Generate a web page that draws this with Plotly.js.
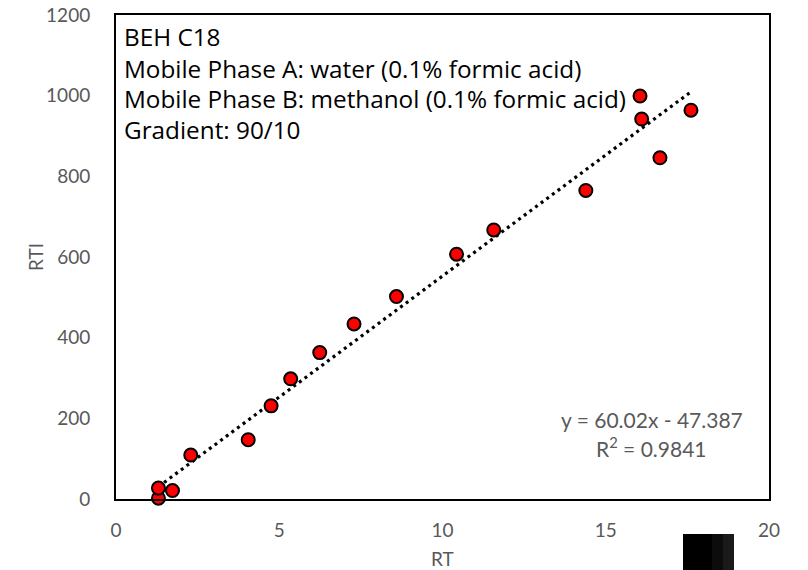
<!DOCTYPE html>
<html>
<head>
<meta charset="utf-8">
<script src="https://cdn.plot.ly/plotly-3.0.1.min.js"></script>
<style>
  html, body { margin: 0; padding: 0; background: #fff; }
  #chart { width: 808px; height: 570px; }
</style>
</head>
<body>
<div id="chart"></div>
<script>
// Retention time (min) and retention time index for each compound
const rt  = [1.30, 1.30, 1.73, 2.29, 4.05, 4.75, 5.35, 6.24, 7.29, 8.59, 10.43, 11.57, 14.39, 16.05, 16.10, 16.66, 17.61];
const rti = [2, 27, 21, 109, 147, 231, 298, 363, 434, 502, 607, 667, 765, 999, 942, 846, 964];

// Linear trendline reported for the fit
const slope = 60.02;
const intercept = -47.387;
const r2 = 0.9841;

const xTicks = [0, 5, 10, 15, 20];
const yTicks = [0, 200, 400, 600, 800, 1000, 1200];

const xTitle = "RT";
const yTitle = "RTI";

const infoLines = [
  "BEH C18",
  "Mobile Phase A: water (0.1% formic acid)",
  "Mobile Phase B: methanol (0.1% formic acid)",
  "Gradient: 90/10"
];

const FONT = "Lato, 'Open Sans', sans-serif";
const BOXFONT = "'Open Sans', Lato, sans-serif";
const GREY = "#595959";

const xMin = Math.min(...rt), xMax = Math.max(...rt);
const trendX = [xMin, xMax];
const trendY = trendX.map(x => slope * x + intercept);

const traces = [
  {
    x: trendX, y: trendY, type: "scatter", mode: "lines",
    line: { color: "#000", width: 3.2, dash: "3px,4px" },
    hoverinfo: "skip"
  },
  {
    x: rt, y: rti, type: "scatter", mode: "markers", cliponaxis: false,
    marker: { color: "#ff0000", size: 13, line: { color: "#000", width: 2 } }
  }
];

const plotW = 808 - 116 - 39;
const plotH = 570 - 15 - 71;
const px = v => (v - 116) / plotW;
const py = v => (499 - v) / plotH;

const lineY = [37, 68, 98, 129];

const annotations = infoLines.map((t, i) => ({
  text: t, xref: "paper", yref: "paper",
  x: px(122), y: py(lineY[i]),
  xanchor: "left", yanchor: "middle", showarrow: false,
  font: { family: BOXFONT, size: 24.3, color: "#000" }
}));

// fit equation and coefficient of determination
annotations.push({
  text: "y = " + slope.toFixed(2) + "x - " + Math.abs(intercept).toFixed(3),
  xref: "paper", yref: "paper", x: px(652), y: py(419),
  xanchor: "center", yanchor: "middle", showarrow: false,
  font: { family: FONT, size: 21, color: GREY }
});
annotations.push({
  text: "R<sup>2</sup> = " + r2.toFixed(4),
  xref: "paper", yref: "paper", x: px(651), y: py(447),
  xanchor: "center", yanchor: "middle", showarrow: false,
  font: { family: FONT, size: 21, color: GREY }
});

// axis titles
annotations.push({
  text: xTitle, xref: "paper", yref: "paper", x: px(443), y: py(558),
  xanchor: "center", yanchor: "middle", showarrow: false,
  font: { family: FONT, size: 19, color: GREY }
});
annotations.push({
  text: yTitle, xref: "paper", yref: "paper", x: px(35), y: py(257),
  xanchor: "center", yanchor: "middle", showarrow: false, textangle: -90,
  font: { family: FONT, size: 19, color: GREY }
});

// dark block under the x axis, lower right
const shapes = [
  { type: "rect", xref: "paper", yref: "paper", x0: px(683), x1: px(712), y0: py(570), y1: py(534),
    fillcolor: "#000", line: { width: 0 } },
  { type: "rect", xref: "paper", yref: "paper", x0: px(712), x1: px(723), y0: py(570), y1: py(534),
    fillcolor: "#0c0c0c", line: { width: 0 } },
  { type: "rect", xref: "paper", yref: "paper", x0: px(723), x1: px(734), y0: py(570), y1: py(534),
    fillcolor: "#1a1a1a", line: { width: 0 } }
];

const layout = {
  width: 808, height: 570,
  margin: { l: 116, r: 39, t: 15, b: 71 },
  paper_bgcolor: "#fff", plot_bgcolor: "#fff",
  showlegend: false,
  font: { family: FONT, size: 19, color: GREY },
  xaxis: {
    range: [0, 20], tickvals: xTicks, ticktext: xTicks.map(String),
    showgrid: false, zeroline: false,
    showline: true, mirror: true, linecolor: "#000", linewidth: 2,
    ticks: "outside", ticklen: 13, tickcolor: "rgba(0,0,0,0)",
    tickfont: { family: FONT, size: 19, color: GREY }
  },
  yaxis: {
    range: [0, 1200], tickvals: yTicks, ticktext: yTicks.map(String),
    showgrid: false, zeroline: false,
    showline: true, mirror: true, linecolor: "#000", linewidth: 2,
    ticks: "outside", ticklen: 20, tickcolor: "rgba(0,0,0,0)",
    tickfont: { family: FONT, size: 19, color: GREY }
  },
  annotations: annotations,
  shapes: shapes
};

Plotly.newPlot("chart", traces, layout, { staticPlot: true, displayModeBar: false });
</script>
</body>
</html>
